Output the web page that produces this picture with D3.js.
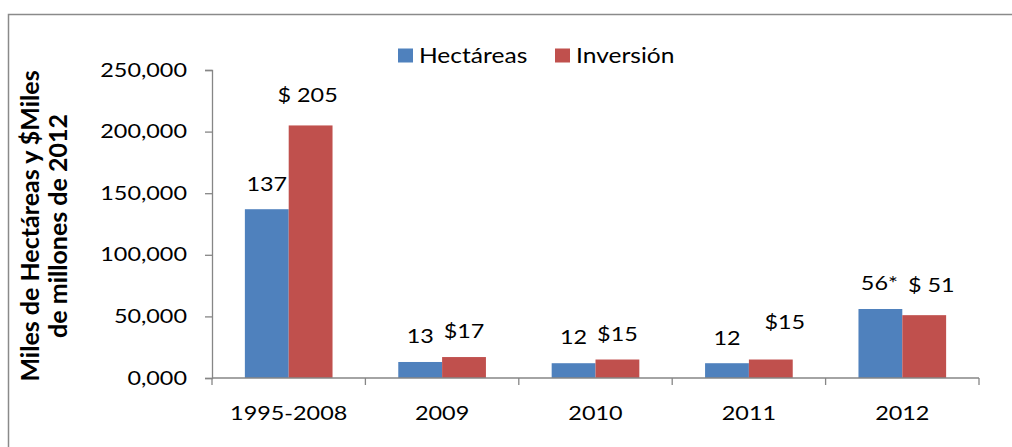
<!DOCTYPE html>
<html>
<head>
<meta charset="utf-8">
<script src="https://cdn.jsdelivr.net/npm/d3@7"></script>
<style>
  html, body { margin: 0; padding: 0; background: #fff; }
  svg { display: block; }
  text { font-family: Lato, "Open Sans", sans-serif; fill: #000; }
</style>
</head>
<body>
<svg id="chart" width="1012" height="447"></svg>
<script>
// ---- data ----
const categories = ["1995-2008", "2009", "2010", "2011", "2012"];
const seriesNames = ["Hectáreas", "Inversión"];
const hectareas = [137000, 13000, 12000, 12000, 56000];
const inversion = [205000, 17000, 15000, 15000, 51000];
const hectareasLabels = ["137", "13", "12", "12", "56*"];
const inversionLabels = ["$ 205", "$17", "$15", "$15", "$ 51"];
const yTickValues = [0, 50000, 100000, 150000, 200000, 250000];
const yTickLabels = ["0,000", "50,000", "100,000", "150,000", "200,000", "250,000"];
const yTitleLines = ["Miles de Hectáreas y $Miles", "de millones de 2012"];

// ---- layout (not data) ----
const colors = { "Hectáreas": "#4F81BD", "Inversión": "#C0504D" };
const labelLift = { "Hectáreas": [18, 19, 19, 18, 19], "Inversión": [23, 19, 19, 31, 23] };
const labelShift = { "Hectáreas": [0, 0, 0, 0, -1], "Inversión": [-3, 0, 0, 14, 7] };
const SX = 1.17;          // horizontal stretch of the original text
const FS = 20;            // base font size
const axisColor = "#868686";

const svg = d3.select("#chart");

// chart border (right/bottom edges fall outside the picture)
svg.append("rect")
  .attr("x", 8.5).attr("y", 14.5)
  .attr("width", 1100).attr("height", 600)
  .attr("fill", "none").attr("stroke", "#8a8a8a").attr("stroke-width", 1.5);

const plot = { left: 212, right: 979, top: 70, bottom: 378 };

const x0 = d3.scaleBand()
  .domain(categories)
  .range([plot.left, plot.right])
  .paddingInner(1.5 / 3.5)
  .paddingOuter(0.75 / 3.5);

const x1 = d3.scaleBand()
  .domain(seriesNames)
  .range([0, x0.bandwidth()])
  .padding(0);

const y = d3.scaleLinear().domain([0, 250000]).range([plot.bottom, plot.top]);

const rows = categories.map((c, i) => ({
  cat: c, i,
  values: [
    { s: "Hectáreas", v: hectareas[i], label: hectareasLabels[i] },
    { s: "Inversión", v: inversion[i], label: inversionLabels[i] }
  ]
}));

// bars
const groups = svg.append("g").selectAll("g")
  .data(rows).join("g")
  .attr("transform", d => `translate(${x0(d.cat)},0)`);

groups.selectAll("rect")
  .data(d => d.values).join("rect")
  .attr("x", d => x1(d.s))
  .attr("y", d => y(d.v))
  .attr("width", x1.bandwidth())
  .attr("height", d => y(0) - y(d.v))
  .attr("fill", d => colors[d.s]);

// y axis
const yAxis = d3.axisLeft(y)
  .tickValues(yTickValues)
  .tickFormat((d, i) => yTickLabels[i])
  .tickSize(7)
  .tickPadding(18);
const gy = svg.append("g").attr("transform", `translate(${plot.left},0)`).call(yAxis);
gy.select(".domain").attr("stroke", axisColor).attr("stroke-width", 1.3);
gy.selectAll(".tick line").attr("stroke", axisColor).attr("stroke-width", 1.3);
gy.selectAll(".tick text").each(function () {
  const t = d3.select(this);
  const tx = +t.attr("x");
  t.attr("x", null).attr("dy", null)
    .attr("transform", `translate(${tx},6) scale(${SX},1)`)
    .attr("font-size", FS).attr("font-family", "Lato").attr("fill", "#000");
});

// x axis with ticks at category boundaries
const gx = svg.append("g").attr("transform", `translate(0,${plot.bottom})`);
gx.append("line")
  .attr("x1", plot.left).attr("x2", plot.right)
  .attr("stroke", axisColor).attr("stroke-width", 1.3);
const step = x0.step();
const bounds = d3.range(categories.length + 1).map(i => plot.left + i * step);
gx.selectAll(".xt").data(bounds).join("line")
  .attr("x1", d => d).attr("x2", d => d)
  .attr("y1", 0).attr("y2", 7)
  .attr("stroke", axisColor).attr("stroke-width", 1.3);
gx.selectAll(".xl").data(categories).join("text")
  .attr("transform", d => `translate(${x0(d) + x0.bandwidth() / 2},42) scale(${SX},1)`)
  .attr("text-anchor", "middle")
  .attr("font-size", FS)
  .text(d => d);

// data labels
groups.selectAll("text.lbl")
  .data(d => d.values.map(v => ({ ...v, i: d.i }))).join("text")
  .attr("class", "lbl")
  .attr("transform", d =>
    `translate(${x1(d.s) + x1.bandwidth() / 2 + labelShift[d.s][d.i]},${y(d.v) - labelLift[d.s][d.i]}) scale(${SX},1)`)
  .attr("text-anchor", "middle")
  .attr("font-size", FS)
  .text(d => d.label);

// legend
const legend = svg.append("g");
const legendX = [398, 555];
seriesNames.forEach((s, i) => {
  legend.append("rect")
    .attr("x", legendX[i]).attr("y", 48.5)
    .attr("width", 15).attr("height", 14)
    .attr("fill", colors[s]);
  legend.append("text")
    .attr("transform", `translate(${legendX[i] + 21},63) scale(${SX},1)`)
    .attr("font-size", 21)
    .text(s);
});

// y axis title
const titleX = [39, 67];
yTitleLines.forEach((line, i) => {
  svg.append("text")
    .attr("transform", `translate(${titleX[i]},226) rotate(-90)`)
    .attr("text-anchor", "middle")
    .attr("font-size", 25)
    .attr("font-weight", "bold")
    .text(line);
});
</script>
</body>
</html>
